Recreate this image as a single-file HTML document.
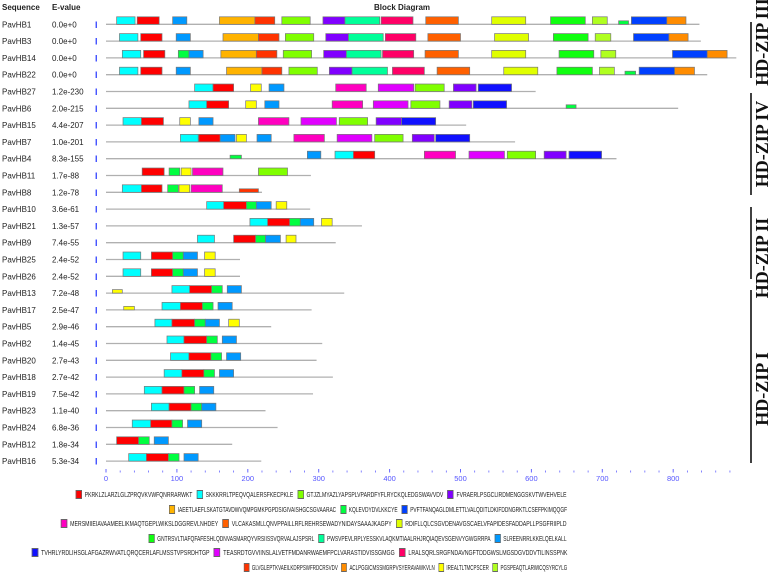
<!DOCTYPE html>
<html><head><meta charset="utf-8">
<style>
html,body{margin:0;padding:0;background:#fff;}
body{width:778px;height:577px;overflow:hidden;position:relative;font-family:"Liberation Sans","DejaVu Sans",sans-serif;}
svg{position:absolute;left:0;top:0;}
.lg{position:absolute;right:211px;display:flex;align-items:center;font-size:7.3px;color:#222;white-space:nowrap;transform-origin:100% 50%;}
.lg span.b{display:inline-block;width:7px;height:7px;border:1px solid #666;margin:0 4px 0 6px;}
</style></head><body>
<svg id="chart" width="778" height="577"></svg>
<div id="legend"></div>
<script>
const seqNames=["PavHB1","PavHB3","PavHB14","PavHB22","PavHB27","PavHB6","PavHB15","PavHB7","PavHB4","PavHB11","PavHB8","PavHB10","PavHB21","PavHB9","PavHB25","PavHB26","PavHB13","PavHB17","PavHB5","PavHB2","PavHB20","PavHB18","PavHB19","PavHB23","PavHB24","PavHB12","PavHB16"];
const eValues=["0.0e+0","0.0e+0","0.0e+0","0.0e+0","1.2e-230","2.0e-215","4.4e-207","1.0e-201","8.3e-155","1.7e-88","1.2e-78","3.6e-61","1.3e-57","7.4e-55","2.4e-52","2.4e-52","7.2e-48","2.5e-47","2.9e-46","1.4e-45","2.7e-43","2.7e-42","7.5e-42","1.1e-40","6.8e-36","1.8e-34","5.3e-34"];
const seqLengths=[837,839,889,848,606,807,508,577,720,289,220,288,361,324,189,189,336,290,233,305,297,320,292,225,242,178,219];
const blockMotif=[
[2,1,13,5,17,3,4,12,16,9,10,11,20,6,7,18],
[2,1,13,5,17,3,4,12,16,9,10,11,20,7,18],
[2,1,6,13,5,17,3,4,12,16,9,10,11,20,7,18],
[2,1,13,5,17,3,4,12,16,9,10,11,20,6,7,18],
[2,1,19,13,8,15,3,4,14],
[2,1,19,13,8,15,3,4,14,6],
[2,1,19,13,8,15,3,4,14],
[2,1,13,19,13,8,15,3,4,14],
[6,13,2,1,8,15,3,4,14],
[1,6,19,8,3],
[2,1,6,19,8,17],
[2,1,6,13,19],[2,1,6,13,19],[2,1,6,13,19],[2,1,6,13,19],[2,1,6,13,19],
[19,2,1,6,13],[19,2,1,6,13],[2,1,6,13,19],
[2,1,6,13],[2,1,6,13],[2,1,6,13],[2,1,6,13],[2,1,6,13],[2,1,6,13],
[1,6,13],[2,1,6,13]];
const blockStart=[
[15,44,94,160,210,248,306,337,388,451,544,627,686,723,741,791],
[19,49,99,165,215,253,310,342,394,454,548,631,690,744,794],
[23,53,102,117,162,212,250,307,339,390,450,544,639,698,799,848],
[19,49,99,170,220,258,315,347,404,467,561,636,696,732,752,802],
[125,151,204,230,324,384,436,490,525],
[117,142,197,224,319,377,430,484,518,649],
[24,50,104,131,215,275,329,381,417],
[105,131,161,184,213,265,326,379,432,465],
[175,284,323,349,449,512,566,618,653],
[51,89,106,122,215],
[23,50,87,103,120,188],
[142,166,198,212,240],
[203,228,259,274,304],
[129,180,211,225,254],
[24,64,94,109,139],[24,64,94,109,139],
[9,93,118,149,171],[25,79,105,136,158],[69,93,125,140,173],
[86,110,142,164],[91,117,148,170],[82,107,138,160],[54,79,110,132],[64,89,120,135],[37,63,93,115],
[15,46,68],[32,57,88,110]];
const blockEnd=[
[41,75,114,210,238,288,337,386,433,497,592,676,707,737,791,818],
[45,79,119,215,244,293,342,391,437,500,596,680,712,794,821],
[49,83,117,137,212,241,290,339,388,434,497,592,688,719,848,876],
[45,79,119,220,248,298,347,397,449,513,609,686,717,747,802,830],
[151,180,219,251,367,434,477,522,572],
[142,173,212,244,362,426,471,516,565,663],
[50,81,119,151,258,325,369,417,465],
[130,161,182,198,233,308,375,419,463,513],
[191,303,349,379,493,562,606,649,699],
[82,104,120,165,256],
[50,79,102,118,164,215],
[166,198,212,233,255],
[228,259,274,293,319],
[153,211,225,246,268],
[49,94,109,129,154],[49,94,109,129,154],
[23,118,149,164,191],[40,105,136,151,178],[93,125,140,160,188],
[110,142,157,184],[117,148,163,190],[107,138,153,180],[79,110,125,152],[89,120,135,155],[63,93,108,135],
[46,61,88],[57,88,103,130]];
const blockWeak=[
[0,0,0,0,0,0,0,0,0,0,0,0,0,1,0,0],[],[],[0,0,0,0,0,0,0,0,0,0,0,0,0,1,0,0],
[],[0,0,0,0,0,0,0,0,0,1],[],[],[1,0,0,0,0,0,0,0,0],[],[0,0,0,0,0,1],
[],[],[],[],[],[1,0,0,0,0],[1,0,0,0,0],[],[],[],[],[],[],[],[],[]];
const axisTicks=[0,100,200,300,400,500,600,700,800];
const motifColors=["","#ff0000","#00ffff","#80ff00","#8000ff","#ffb300","#00ff40","#0040ff","#ff00c0","#ff6000","#e0ff00","#10ff10","#00ff99","#0099ff","#1010ff","#e000ff","#ff0066","#ff3300","#ff8c00","#ffff00","#b0ff20"];
const motifSeqs=["","PKRKLZLARZLGLZPRQVKVWFQNRRARWKT","SKKKRRLTPEQVQALERSFKECPKLE","GTJZLMYAZLYAPSPLVPARDFYFLRYCKQLEDGSWAVVDV","FVRAERLPSGCLIRDMENGGSKVTWVEHVELE","IAEETLAEFLSKATGTAVDWVQMPGMKPGPDSIGIVAISHGCSGVAARAC","KQLEVDYDVLKKCYE","PVFTFANQAGLDMLETTLVALQDITLDKIFDDNGRKTLCSEFPKIMQQGF","MERSMIIEIAVAAMEELIKMAQTGEPLWIKSLDGGREVLNHDEY","VLCAKASMLLQNVPPAILLRFLREHRSEWADYNIDAYSAAAJKAGPY","RDIFLLQLCSGVDENAVGSCAELVFAPIDESFADDAPLLPSGFRIIPLD","GNTRSVLTIAFQFAFESHLQDNVASMARQYVRSIISSVQRVALAJSPSRL","PWSVPEVLRPLYESSKVLAQKMTIAALRHJRQIAQEVSGENVYGWGRRPA","SLREENRRLKKELQELKALL","TVHRLYRDLIHSGLAFGAZRWVATLQRQCERLAFLMSSTVPSRDHTGP","TEASRDTGVVIINSLALVETFMDANRWAEMFPCLVARASTIDVISSGMGG","LRALSQRLSRGFNDAVNGFTDDGWSLMGSDGVDDVTILINSSPNK","GLVGLEPTKVAEILKDRPSWFRDCRSVDV","ACLPGGICMSSMGRPVSYERAVAWKVLN","IREALTLTMCPSCER","PGSPEAQTLARWICQSYRCYLG"];
const legendRows=[[1,2,3,4],[5,6,7],[8,9,10],[11,12,13],[14,15,16],[17,18,19,20]];

const NS="http://www.w3.org/2000/svg";
const svg=document.getElementById('chart');
const X0=106,K=0.709,Y0=24.3,DY=16.8;
const xs=u=>X0+u*K, ys=i=>Y0+i*DY;
function mk(t,a,p){const e=document.createElementNS(NS,t);for(const k in a)e.setAttribute(k,a[k]);(p||svg).appendChild(e);return e;}
function txt(x,y,s,a){const e=mk('text',Object.assign({x:x,y:y,'font-family':'"Liberation Sans",sans-serif','font-size':8,fill:'#222'},a||{}));e.textContent=s;return e;}
let h;
h=txt(2,10,"Sequence",{'font-weight':'bold'});


h=txt(52,10,"E-value",{'font-weight':'bold'});


h=txt(402,10,"Block Diagram",{'font-weight':'bold','text-anchor':'middle'});


seqNames.forEach((n,i)=>{
  const y=ys(i);
  const g=mk('g',{});
  
  
  const nm=txt(2,y+3,n);
  
  
  g.appendChild(nm);
  const ev=txt(52,y+3,eValues[i]);
  
  
  g.appendChild(ev);
  const ic=txt(95,y+3.5,"I",{fill:'#3344ff','font-size':9,'font-weight':'bold'});
  
  
  g.appendChild(ic);
  const ln=mk('line',{x1:xs(0),x2:xs(seqLengths[i]),y1:y,y2:y,stroke:'#b0b0b0','stroke-width':1.3},g);
  
  
  blockMotif[i].forEach((m,j)=>{
    const weak=blockWeak[i][j]===1;
    const hh=weak?3.5:7.5;
    const r=mk('rect',{x:xs(blockStart[i][j]),y:y-hh,width:xs(blockEnd[i][j])-xs(blockStart[i][j]),height:hh,fill:motifColors[m],stroke:'#777','stroke-width':0.7},g);
    
    
  });
});
const ax=mk('g',{});


for(let u=0;u<=880;u+=20){
  const maj=u%100===0;
  mk('line',{x1:xs(u),x2:xs(u),y1:maj?469:470.5,y2:472.5,stroke:'#6666ff','stroke-width':maj?1:0.8},ax);
}
axisTicks.forEach(t=>{
  const e=txt(xs(t),481,String(t),{fill:'#5555ff','font-size':7.5,'text-anchor':'middle'});
  
  
  ax.appendChild(e);
});
const groups=[["HD-ZIP III",-2,86,22,78],["HD-ZIP IV",92,196,93,195],["HD-ZIP II",203,313,207,279],["HD-ZIP I",318,460,290,463]];
groups.forEach(g=>{
  const l=mk('line',{x1:751,x2:751,y1:g[3],y2:g[4],stroke:'#111','stroke-width':1.6});
  
  
  const cy=(g[1]+g[2])/2;
  const t=mk('text',{x:0,y:0,transform:'translate(768,'+cy+') rotate(-90)','text-anchor':'middle','font-family':'"Liberation Serif",serif','font-size':18,'font-weight':'bold',fill:'#111'});
  t.textContent=g[0];
  
  
});
const lg=document.getElementById('legend');
const legTops=[490,504.5,519,533.5,548,562.5];
const legLeft=[72,165,57,145,27,240];
legendRows.forEach((row,ri)=>{
  const d=document.createElement('div');
  d.className='lg';d.style.top=legTops[ri]+'px';
  
  
  row.forEach(m=>{
    const b=document.createElement('span');b.className='b';b.style.background=motifColors[m];
    
    
    const s=document.createElement('span');s.textContent=motifSeqs[m];
    
    
    d.appendChild(b);d.appendChild(s);
  });
  lg.appendChild(d);
  const w=d.getBoundingClientRect().width;
  const target=567-legLeft[ri];
  d.style.transform='scaleX('+(target/w)+')';
});
</script>
</body></html>
